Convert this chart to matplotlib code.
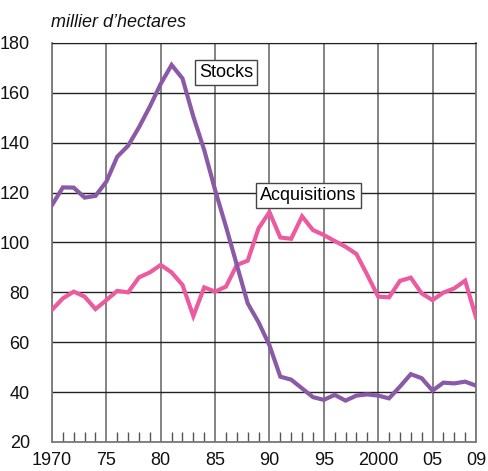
import matplotlib.pyplot as plt
from matplotlib.ticker import FixedLocator, MultipleLocator

years = list(range(1970, 2010))
stocks = [115.0, 122.1, 122.0, 118.0, 118.7, 124.4, 134.4, 138.8, 146.2, 154.5,
          163.6, 171.2, 165.8, 150.5, 137.1, 121.1, 106.4, 91.0, 75.6, 68.0,
          58.8, 46.2, 45.0, 41.5, 38.0, 36.9, 38.9, 36.6, 38.6, 39.1,
          38.6, 37.5, 42.2, 47.2, 45.6, 40.6, 43.8, 43.5, 44.2, 42.6]
acquisitions = [73.0, 77.6, 80.3, 78.3, 73.3, 76.9, 80.6, 80.0, 86.0, 88.0,
                91.0, 88.0, 83.0, 70.5, 82.0, 80.3, 82.3, 91.0, 92.7, 105.7,
                112.2, 102.0, 101.5, 110.5, 105.0, 103.0, 100.6, 98.3, 95.4, 87.0,
                78.3, 78.0, 84.6, 85.9, 79.6, 76.9, 79.9, 81.6, 84.7, 70.0]
xticks = [1970, 1975, 1980, 1985, 1990, 1995, 2000, 2005, 2009]
xlabels = ['1970', '75', '80', '85', '90', '95', '2000', '05', '09']
yticks = [20, 40, 60, 80, 100, 120, 140, 160, 180]

plt.rcParams['font.family'] = ['Liberation Sans', 'DejaVu Sans']

fig = plt.figure(figsize=(4.88, 4.71), dpi=100)
ax = fig.add_axes([52 / 488, 1 - 442 / 471, 424 / 488, 399 / 471])

# grid: vertical grey, horizontal black
for x in xticks:
    ax.axvline(x, color='#7a7a7a', lw=1.3, zorder=1)
for y in yticks:
    ax.axhline(y, color='#222222', lw=1.0, zorder=1)

ax.plot(years, acquisitions, color='#ec5a9f', lw=3, zorder=3, solid_joinstyle='miter')
ax.plot(years, stocks, color='#8a5aa6', lw=3, zorder=4, solid_joinstyle='miter')

ax.set_xlim(1970, 2009)
ax.set_ylim(20, 180)
ax.xaxis.set_major_locator(FixedLocator(xticks))
ax.set_xticklabels(xlabels)
ax.xaxis.set_minor_locator(MultipleLocator(1))
ax.set_yticks(yticks)
ax.tick_params(axis='x', which='major', length=0, pad=7, labelsize=13, colors='#111111')
ax.tick_params(axis='x', which='minor', direction='in', length=7, width=1, color='#555555')
ax.tick_params(axis='y', length=0, pad=16, labelsize=13, colors='#111111')

for side in ['left', 'bottom', 'right']:
    ax.spines[side].set_color('#7a7a7a')
    ax.spines[side].set_linewidth(1.3)
ax.spines['top'].set_color('#222222')

box = dict(boxstyle='square,pad=0.22', fc='white', ec='#444444', lw=1)
ax.text(1986.0, 168.2, 'Stocks', fontsize=13, ha='center', va='center', bbox=box, zorder=5)
ax.text(1993.6, 118.9, 'Acquisitions', fontsize=13, ha='center', va='center', bbox=box, zorder=5)

fig.text(51 / 488, 1 - 27 / 471, 'millier d\u2019hectares', fontsize=13, style='italic',
         ha='left', va='baseline', color='#111111')

fig.savefig('out.png', dpi=100)
